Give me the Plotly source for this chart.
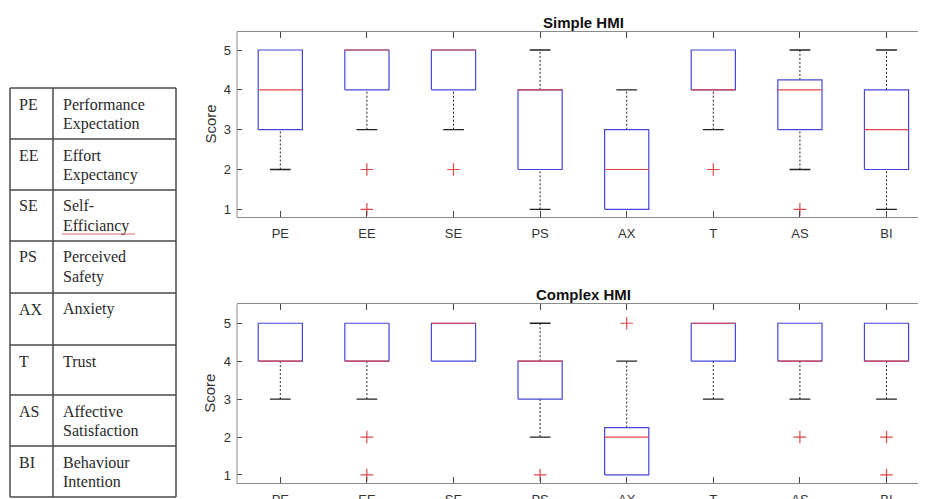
import plotly.graph_objects as go

# ---------------- data ----------------
categories = ["PE", "EE", "SE", "PS", "AX", "T", "AS", "BI"]

simple_q1 = [3, 4, 4, 2, 1, 4, 3, 2]
simple_med = [4, 5, 5, 4, 2, 4, 4, 3]
simple_q3 = [5, 5, 5, 4, 3, 5, 4.25, 4]
simple_lo = [2, 3, 3, 1, 1, 3, 2, 1]
simple_hi = [5, 5, 5, 5, 4, 5, 5, 5]
simple_out = [[], [2, 1], [2], [], [], [2], [1], []]

complex_q1 = [4, 4, 4, 3, 1, 4, 4, 4]
complex_med = [4, 4, 5, 4, 2, 5, 4, 4]
complex_q3 = [5, 5, 5, 4, 2.25, 5, 5, 5]
complex_lo = [3, 3, 4, 2, 1, 3, 3, 3]
complex_hi = [5, 5, 5, 5, 4, 5, 5, 5]
complex_out = [[], [2, 1], [], [1], [5], [], [2], [2, 1]]

y_ticks = [1, 2, 3, 4, 5]

table_abbr = ["PE", "EE", "SE", "PS", "AX", "T", "AS", "BI"]
table_full = [["Performance", "Expectation"], ["Effort", "Expectancy"],
              ["Self-", "Efficiancy"], ["Perceived", "Safety"], ["Anxiety"],
              ["Trust"], ["Affective", "Satisfaction"], ["Behaviour", "Intention"]]

# ---------------- layout helpers ----------------
OFF = 8                      # page body margin
W, H = 926 - OFF, 499 - OFF  # figure size so it fills the window
def px(x):
    return (x - OFF) / W
def py(y):
    return 1 - (y - OFF) / H

BOX_C = "#4646d8"
MED_C = "#e04848"
WH_C = "#222222"
AX_C = "#8a8a8a"
TXT_C = "#333333"
HW = 0.255   # box half width
CW = 0.12    # cap half width

fig = go.Figure()

def add_boxes(q1, med, q3, lo, hi, out, xa, ya):
    wx, wy, cx, cy, bx, by, mx, my, ox, oy = [], [], [], [], [], [], [], [], [], []
    for i in range(len(categories)):
        p = i + 1
        if lo[i] < q1[i]:
            wx += [p, p, None]; wy += [lo[i], q1[i], None]
            cx += [p - CW, p + CW, None]; cy += [lo[i], lo[i], None]
        if hi[i] > q3[i]:
            wx += [p, p, None]; wy += [q3[i], hi[i], None]
            cx += [p - CW, p + CW, None]; cy += [hi[i], hi[i], None]
        bx += [p - HW, p + HW, p + HW, p - HW, p - HW, None]
        by += [q1[i], q1[i], q3[i], q3[i], q1[i], None]
        mx += [p - HW, p + HW, None]; my += [med[i], med[i], None]
        for v in out[i]:
            ox.append(p); oy.append(v)
    common = dict(xaxis=xa, yaxis=ya, mode="lines", hoverinfo="skip", showlegend=False)
    fig.add_trace(go.Scatter(x=wx, y=wy, line=dict(color=WH_C, width=1, dash="2px,2px"), **common))
    fig.add_trace(go.Scatter(x=cx, y=cy, line=dict(color=WH_C, width=1.3), **common))
    fig.add_trace(go.Scatter(x=bx, y=by, line=dict(color=BOX_C, width=1.2), **common))
    fig.add_trace(go.Scatter(x=mx, y=my, line=dict(color=MED_C, width=1.2), **common))
    fig.add_trace(go.Scatter(x=ox, y=oy, xaxis=xa, yaxis=ya, mode="markers", showlegend=False,
                             hoverinfo="skip",
                             marker=dict(symbol="cross-thin", size=9, color=MED_C,
                                         line=dict(color=MED_C, width=1.2))))

add_boxes(simple_q1, simple_med, simple_q3, simple_lo, simple_hi, simple_out, "x", "y")
add_boxes(complex_q1, complex_med, complex_q3, complex_lo, complex_hi, complex_out, "x2", "y2")

xdom = [px(237), 1]
xcommon = dict(domain=xdom, range=[0.5, 8.456], tickvals=list(range(1, 9)),
               ticktext=categories, ticks="inside", ticklen=6, tickcolor="#444",
               showline=True, linecolor=AX_C, linewidth=1, mirror="ticks",
               showgrid=False, zeroline=False, ticklabelstandoff=4, automargin=False,
               tickfont=dict(family="Liberation Sans, Arial", size=13, color=TXT_C))
ycommon = dict(tickvals=y_ticks, ticks="inside", ticklen=5, tickcolor="#444",
               showline=False, mirror="ticks", showgrid=False, zeroline=False,
               ticklabelstandoff=5, automargin=False,
               tickfont=dict(family="Liberation Sans, Arial", size=13, color=TXT_C))

fig.update_layout(
    width=W, height=H, margin=dict(l=0, r=0, t=0, b=0),
    paper_bgcolor="white", plot_bgcolor="white",
    xaxis=dict(anchor="y", **xcommon),
    yaxis=dict(anchor="x", domain=[py(217.3), py(31.7)], range=[0.8, 5.46], **ycommon),
    xaxis2=dict(anchor="y2", **xcommon),
    yaxis2=dict(anchor="x2", domain=[py(483.3), py(304.3)], range=[0.78, 5.5], **ycommon),
)

shapes = []
# left axis lines
for xa, ya in (("x", "y"), ("x2", "y2")):
    shapes.append(dict(type="line", xref=xa + " domain", yref=ya + " domain",
                       x0=0, x1=0, y0=0, y1=1, line=dict(color=AX_C, width=1)))

annotations = []
# titles and y labels
for title, yc, ymid in (("Simple HMI", 22, 124.5), ("Complex HMI", 294.5, 393.8)):
    annotations.append(dict(text="<b>" + title + "</b>", x=px(583.5), y=py(yc), xref="paper", yref="paper",
                            showarrow=False, xanchor="center", yanchor="middle",
                            font=dict(family="Liberation Sans, Arial", size=15, color="#111")))
    annotations.append(dict(text="Score", x=px(210), y=py(ymid), xref="paper", yref="paper",
                            showarrow=False, textangle=-90, xanchor="center", yanchor="middle",
                            font=dict(family="Liberation Sans, Arial", size=15, color=TXT_C)))

# table
row_edges = [88, 139, 190, 241, 293, 345, 395, 446, 497]
tx0, tx1, tx2 = 10, 53, 176
TL = dict(color="#4a4a4a", width=1.5)
for ye in row_edges:
    shapes.append(dict(type="line", xref="paper", yref="paper", x0=px(tx0), x1=px(tx2),
                       y0=py(ye), y1=py(ye), line=TL))
for xe in (tx0, tx1, tx2):
    shapes.append(dict(type="line", xref="paper", yref="paper", x0=px(xe), x1=px(xe),
                       y0=py(row_edges[0]), y1=py(row_edges[-1]), line=TL))

tfont = dict(family="Liberation Serif, Times New Roman", size=16, color="#2a2a2a")
for i, (ab, full) in enumerate(zip(table_abbr, table_full)):
    top = row_edges[i]
    annotations.append(dict(text=ab, x=px(17), y=py(top + 16), xref="paper", yref="paper",
                            showarrow=False, xanchor="left", yanchor="middle", font=tfont))
    for j, line in enumerate(full):
        annotations.append(dict(text=line, x=px(61), y=py(top + 16 + 19.5 * j), xref="paper", yref="paper",
                                showarrow=False, xanchor="left", yanchor="middle", font=tfont))

# spell-check underline under "Efficiancy"
shapes.append(dict(type="line", xref="paper", yref="paper", x0=px(62), x1=px(135),
                   y0=py(234), y1=py(234), line=dict(color="rgba(220,70,70,0.8)", width=1)))

fig.update_layout(shapes=shapes, annotations=annotations)
fig.write_html("out.html")
